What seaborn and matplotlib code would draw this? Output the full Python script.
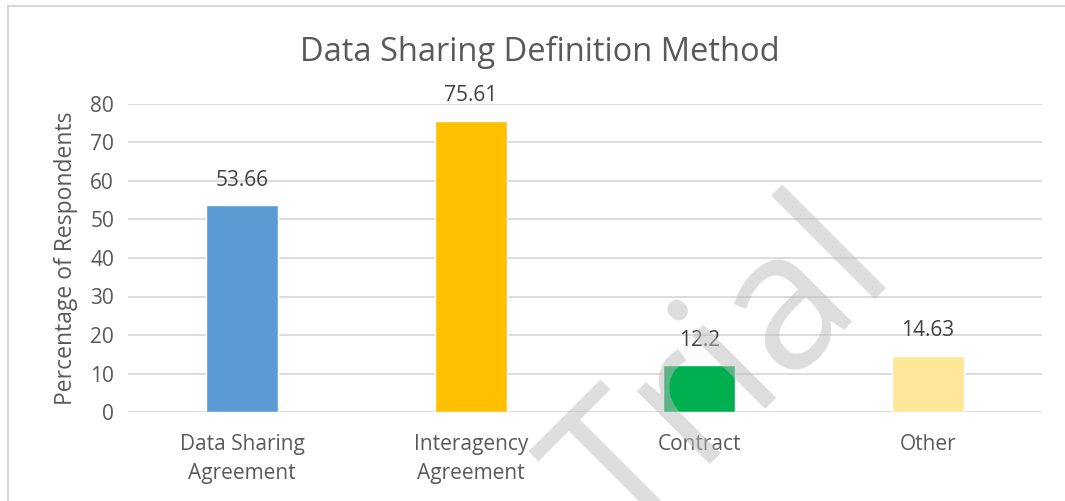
import matplotlib
matplotlib.use("Agg")
import matplotlib.pyplot as plt
import seaborn as sns
import pandas as pd
from matplotlib.patches import Rectangle

categories = ["Data Sharing\nAgreement", "Interagency\nAgreement", "Contract", "Other"]
values = [53.66, 75.61, 12.2, 14.63]
value_labels = ["53.66", "75.61", "12.2", "14.63"]
colors = ["#5B9BD5", "#FFC000", "#00B050", "#FFE699"]
yticks = [0, 10, 20, 30, 40, 50, 60, 70, 80]

df = pd.DataFrame({"Method": categories, "Percent": values})

sns.set_theme(style="white")
plt.rcParams["font.family"] = ["Open Sans", "DejaVu Sans"]
text_col = "#595959"

fig = plt.figure(figsize=(10.65, 5.01), dpi=100)
ax = fig.add_axes([128 / 1065, 1 - 412 / 501, (1042 - 128) / 1065, (412 - 104) / 501])

sns.barplot(data=df, x="Method", y="Percent", hue="Method", palette=colors,
            width=0.315, saturation=1, legend=False, ax=ax, zorder=3)

ax.set_ylim(0, 80)
ax.set_yticks(yticks)
ax.set_yticklabels([str(t) for t in yticks])
ax.grid(axis="y", color="#D9D9D9", linewidth=1.3, zorder=0)
ax.set_axisbelow(True)
sns.despine(ax=ax, left=True, bottom=True)
ax.tick_params(axis="both", length=0, labelsize=15, colors=text_col)
ax.tick_params(axis="x", pad=16)
ax.tick_params(axis="y", pad=10)
for lbl in ax.get_xticklabels():
    lbl.set_linespacing(1.5)
ax.set_xlabel("")
ax.set_ylabel("Percentage of Respondents", fontsize=16.5, color=text_col, labelpad=9)

for i, (v, s) in enumerate(zip(values, value_labels)):
    ax.annotate(s, (i, v), xytext=(0, 18), textcoords="offset points",
                ha="center", va="center", fontsize=15, color="#404040")

fig.text(540 / 1065, 1 - 52 / 501, "Data Sharing Definition Method",
         ha="center", va="center", fontsize=23.5, color=text_col)

# chart border
fig.patches.append(Rectangle((7.5 / 1065, -0.1), 1.2, 1 - 5.5 / 501 + 0.1,
                             transform=fig.transFigure, fill=False,
                             edgecolor="#D9D9D9", linewidth=1.5))

# trial watermark
fig.text(725 / 1065, 1 - 376 / 501, "Trial", rotation=45, ha="center", va="center",
         fontsize=138, color=(187 / 255, 187 / 255, 187 / 255), alpha=0.5, zorder=10)

fig.savefig("out.png", dpi=100)
